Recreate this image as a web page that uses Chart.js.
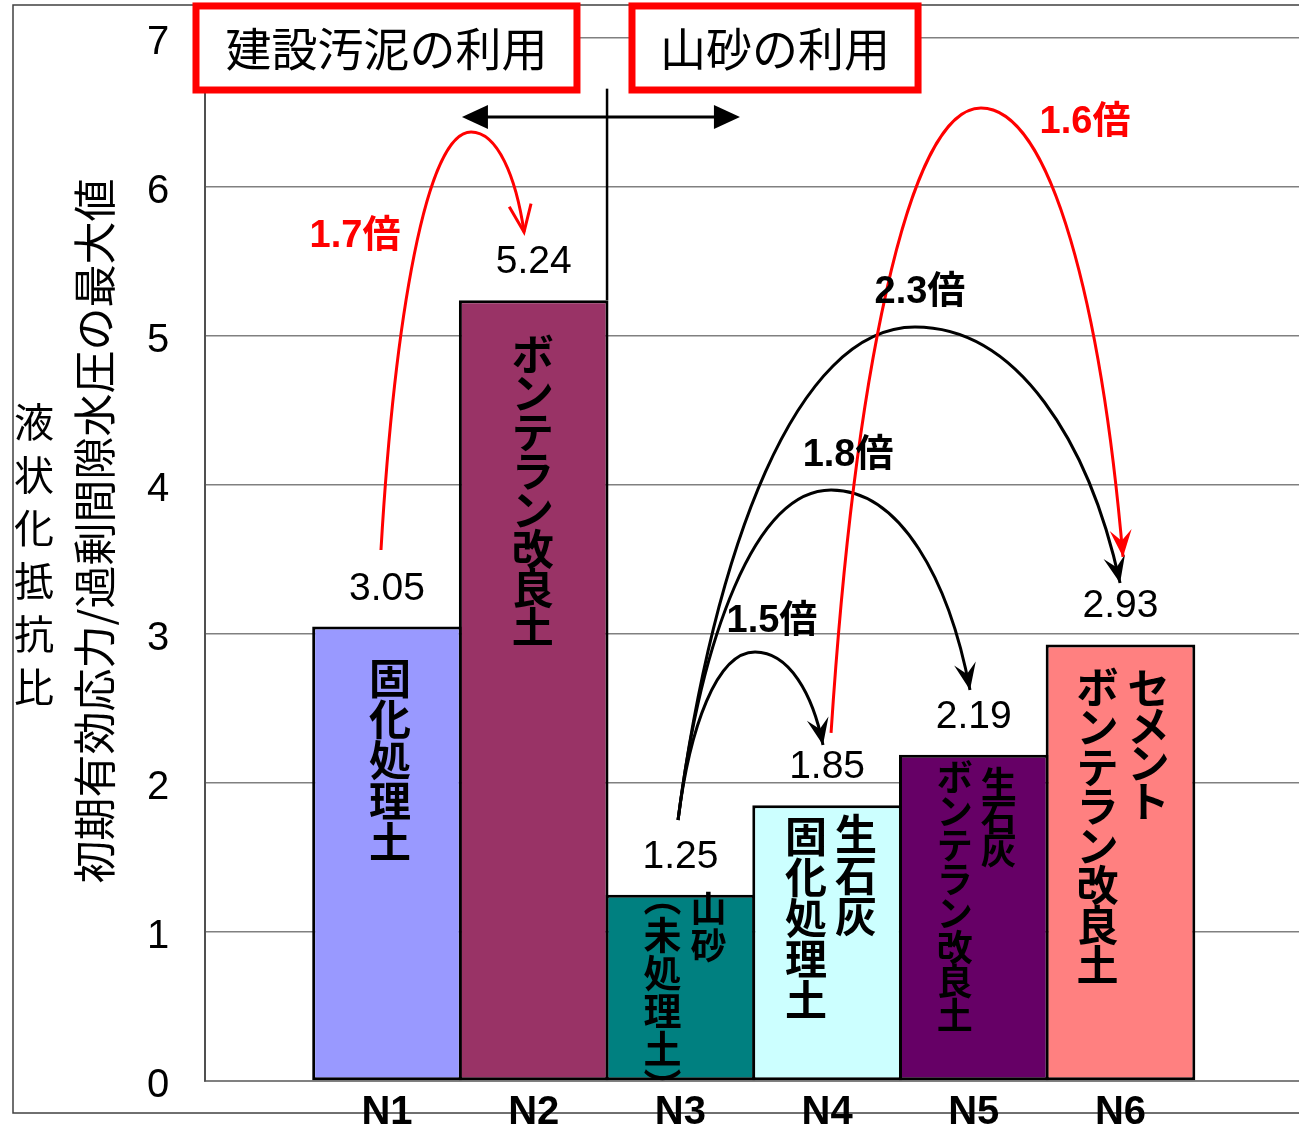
<!DOCTYPE html>
<html>
<head>
<meta charset="utf-8">
<script src="https://cdn.jsdelivr.net/npm/chart.js@4.4.1/dist/chart.umd.min.js"></script>
<style>
	body { margin: 0; background: #fff; }
	canvas { display: block; }
</style>
</head>
<body>
<canvas id="chartCanvas" width="1299" height="1130"></canvas>
<script>
// chart data
const xLabels = ['N1', 'N2', 'N3', 'N4', 'N5', 'N6']
const values = [3.05, 5.24, 1.25, 1.85, 2.19, 2.93]
const barColors = ['#9999FF', '#993366', '#008080', '#CCFFFF', '#660066', '#FF8080']
// text written down inside each bar, right column first
const barNotes = [
	['固化処理土'],
	['ボンテラン改良土'],
	['山砂', '︵未処理土︶'],
	['生石灰', '固化処理土'],
	['生石灰', 'ボンテラン改良土'],
	['セメント', 'ボンテラン改良土']
]
const yMin = 0
const yMax = 7
const yStep = 1
const yTitle = '初期有効応力/過剰間隙水圧の最大値'
const ySideTitle = '液状化抵抗比'
const groupTitles = ['建設汚泥の利用', '山砂の利用']
const ratioLabels = ['1.7倍', '1.6倍', '1.5倍', '1.8倍', '2.3倍']
const ratioColors = ['#FF0000', '#FF0000', '#000000', '#000000', '#000000']

// layout of the texts in the bars (px from bar centre / bar top)
const noteStyle = [
	[{dx: 3, dy: 51, size: 42, pitch: 41}],
	[{dx: -1, dy: 54, size: 42, pitch: 39}],
	[{dx: 28, dy: 14, size: 36, pitch: 37}, {dx: -18, dy: 2, size: 38, pitch: 38}],
	[{dx: 29, dy: 29, size: 42, pitch: 41}, {dx: -21, dy: 31, size: 42, pitch: 41}],
	[{dx: 25, dy: 30, size: 36, pitch: 33}, {dx: -19, dy: 23, size: 36, pitch: 34}],
	[{dx: 28, dy: 44, size: 42, pitch: 37.5}, {dx: -23, dy: 43, size: 42, pitch: 39.6}]
]
// ratio arrows in data units: start, peak, end and label centre
const arrowPaths = [
	{s: [0.959, 3.564], p: [1.573, 6.369], e: [1.934, 5.698], t: [0.782, 5.671], open: true},
	{s: [4.027, 2.336], p: [5.049, 6.530], e: [6.017, 3.517], t: [5.758, 6.430]},
	{s: [2.984, 1.752], p: [3.509, 2.879], e: [3.972, 2.255], t: [3.624, 3.087]},
	{s: [2.984, 1.752], p: [4.027, 3.966], e: [4.974, 2.624], t: [4.143, 4.195]},
	{s: [2.984, 1.752], p: [4.599, 5.060], e: [5.997, 3.342], t: [4.633, 5.289]}
]
const boxX = [[-0.302, 2.295], [2.670, 4.620]]
const boxY = [6.651, 7.215]

const CJK = '"Noto Sans CJK JP", sans-serif'
const LATIN = '"Liberation Sans", Arial, ' + CJK

function px(chart, d) {
	return {x: chart.scales.x.getPixelForValue(d[0]), y: chart.scales.y.getPixelForValue(d[1])}
}

function arrowHead(ctx, tip, from, open) {
	const ang = Math.atan2(tip.y - from.y, tip.x - from.x)
	const L = 27, W = 11
	ctx.save()
	ctx.translate(tip.x, tip.y)
	ctx.rotate(ang)
	ctx.beginPath()
	if (open) {
		ctx.moveTo(-L, -W)
		ctx.lineTo(0, 0)
		ctx.lineTo(-L, W)
		ctx.stroke()
	} else {
		ctx.moveTo(0, 0)
		ctx.lineTo(-L, -W)
		ctx.lineTo(-L * 0.6, 0)
		ctx.lineTo(-L, W)
		ctx.closePath()
		ctx.fill()
	}
	ctx.restore()
}

function drawArc(chart, a, color) {
	const ctx = chart.ctx
	const S = px(chart, a.s), P = px(chart, a.p), E = px(chart, a.e)
	// two cubic pieces, flat at the peak
	const c1 = {x: S.x + 0.15 * (P.x - S.x), y: S.y + 0.55 * (P.y - S.y)}
	const c2 = {x: P.x - 0.5 * (P.x - S.x), y: P.y}
	const c3 = {x: P.x + 0.5 * (E.x - P.x), y: P.y}
	const c4 = {x: E.x - 0.15 * (E.x - P.x), y: E.y - 0.55 * (E.y - P.y)}
	ctx.save()
	ctx.strokeStyle = color
	ctx.fillStyle = color
	ctx.lineWidth = 3
	ctx.beginPath()
	ctx.moveTo(S.x, S.y)
	ctx.bezierCurveTo(c1.x, c1.y, c2.x, c2.y, P.x, P.y)
	ctx.bezierCurveTo(c3.x, c3.y, c4.x, c4.y, E.x, E.y)
	ctx.stroke()
	arrowHead(ctx, E, c4, a.open)
	ctx.restore()
}

function verticalText(ctx, str, x, y, pitch) {
	let i = 0
	for (const ch of str) {
		ctx.fillText(ch, x, y + i * pitch)
		i++
	}
}

const annotations = {
	id: 'annotations',
	beforeDraw(chart) {
		const ctx = chart.ctx
		ctx.save()
		ctx.strokeStyle = '#404040'
		ctx.lineWidth = 1.5
		ctx.strokeRect(13, 5, 1400, 1108)
		ctx.restore()
	},
	afterDatasetsDraw(chart) {
		const ctx = chart.ctx
		const meta = chart.getDatasetMeta(0)
		ctx.save()
		// value labels
		ctx.fillStyle = '#000'
		ctx.font = '39px ' + LATIN
		ctx.textAlign = 'center'
		ctx.textBaseline = 'alphabetic'
		meta.data.forEach((bar, i) => {
			ctx.fillText(values[i].toFixed(2), bar.x, bar.y - 27)
		})
		// texts inside the bars
		ctx.textBaseline = 'middle'
		meta.data.forEach((bar, i) => {
			barNotes[i].forEach((str, j) => {
				const st = noteStyle[i][j]
				ctx.font = 'bold ' + st.size + 'px ' + CJK
				verticalText(ctx, str, bar.x + st.dx, bar.y + st.dy, st.pitch)
			})
		})
		// divider and double arrow
		const top = px(chart, [2.5, 6.66]), bot = px(chart, [2.5, values[1]])
		ctx.strokeStyle = '#000'
		ctx.lineWidth = 2.5
		ctx.beginPath()
		ctx.moveTo(top.x, top.y)
		ctx.lineTo(bot.x, bot.y)
		ctx.stroke()
		const a1 = px(chart, [1.511, 6.47]), a2 = px(chart, [3.406, 6.47])
		ctx.lineWidth = 3
		ctx.beginPath()
		ctx.moveTo(a1.x + 20, a1.y)
		ctx.lineTo(a2.x - 20, a2.y)
		ctx.stroke()
		ctx.fillStyle = '#000'
		ctx.beginPath()
		ctx.moveTo(a1.x, a1.y)
		ctx.lineTo(a1.x + 26, a1.y - 12)
		ctx.lineTo(a1.x + 26, a1.y + 12)
		ctx.closePath()
		ctx.fill()
		ctx.beginPath()
		ctx.moveTo(a2.x, a2.y)
		ctx.lineTo(a2.x - 26, a2.y - 12)
		ctx.lineTo(a2.x - 26, a2.y + 12)
		ctx.closePath()
		ctx.fill()
		// ratio arrows, black ones under the red ones
		for (let k = arrowPaths.length - 1; k >= 0; k--) {
			drawArc(chart, arrowPaths[k], ratioColors[k])
		}
		ctx.font = 'bold 38px ' + LATIN
		ctx.textAlign = 'center'
		ctx.textBaseline = 'middle'
		arrowPaths.forEach((a, k) => {
			const t = px(chart, a.t)
			ctx.fillStyle = ratioColors[k]
			ctx.fillText(ratioLabels[k], t.x, t.y)
		})
		// group title boxes
		boxX.forEach((bx, k) => {
			const p1 = px(chart, [bx[0], boxY[1]]), p2 = px(chart, [bx[1], boxY[0]])
			ctx.fillStyle = '#fff'
			ctx.fillRect(p1.x, p1.y, p2.x - p1.x, p2.y - p1.y)
			ctx.strokeStyle = '#FF0000'
			ctx.lineWidth = 7
			ctx.strokeRect(p1.x, p1.y, p2.x - p1.x, p2.y - p1.y)
			ctx.fillStyle = '#000'
			ctx.font = '46px ' + CJK
			ctx.fillText(groupTitles[k], (p1.x + p2.x) / 2, (p1.y + p2.y) / 2 + 1)
		})
		ctx.restore()
	},
	afterDraw(chart) {
		const ctx = chart.ctx
		ctx.save()
		ctx.fillStyle = '#000'
		ctx.textAlign = 'center'
		ctx.textBaseline = 'middle'
		ctx.font = '40px ' + CJK
		verticalText(ctx, ySideTitle, 34, 422, 53)
		ctx.translate(95, 531)
		ctx.rotate(-Math.PI / 2)
		ctx.font = '43px ' + CJK
		ctx.fillText(yTitle, 0, 0)
		ctx.restore()
	}
}

function initChart() {
	const config = {
		type: 'bar',
		data: {
			datasets: [{
				data: values.map((v, i) => ({x: i + 1, y: v})),
				backgroundColor: barColors,
				borderColor: '#000',
				borderWidth: 3,
				borderSkipped: false,
				barPercentage: 1.02,
				categoryPercentage: 1
			}]
		},
		options: {
			responsive: false,
			animation: false,
			layout: { padding: {top: 38, right: 0, bottom: 0, left: 147} },
			plugins: { legend: { display: false }, tooltip: { enabled: false } },
			scales: {
				x: {
					type: 'linear',
					min: -0.2406,
					max: 7.2168,
					offset: false,
					grid: { display: false, drawTicks: false },
					border: { color: '#808080', width: 2 },
					afterBuildTicks: s => { s.ticks = xLabels.map((l, i) => ({value: i + 1})) },
					afterFit: s => { s.height = 49 },
					ticks: {
						autoSkip: false,
						maxRotation: 0,
						padding: 8,
						color: '#000',
						font: { family: LATIN, size: 40, weight: 'bold' },
						callback: v => xLabels[v - 1]
					}
				},
				y: {
					min: yMin,
					max: yMax,
					grid: { color: '#808080', lineWidth: 1.5, drawTicks: false },
					border: { color: '#505050', width: 2 },
					afterFit: s => { s.width = 58 },
					ticks: {
						stepSize: yStep,
						padding: 0,
						labelOffset: 5,
						crossAlign: 'far',
						color: '#000',
						font: { family: LATIN, size: 40 }
					}
				}
			}
		},
		plugins: [annotations]
	}
	window.myChart = new Chart(document.getElementById('chartCanvas'), config)
}

window.onload = function() {
	initChart()
}
</script>
</body>
</html>
